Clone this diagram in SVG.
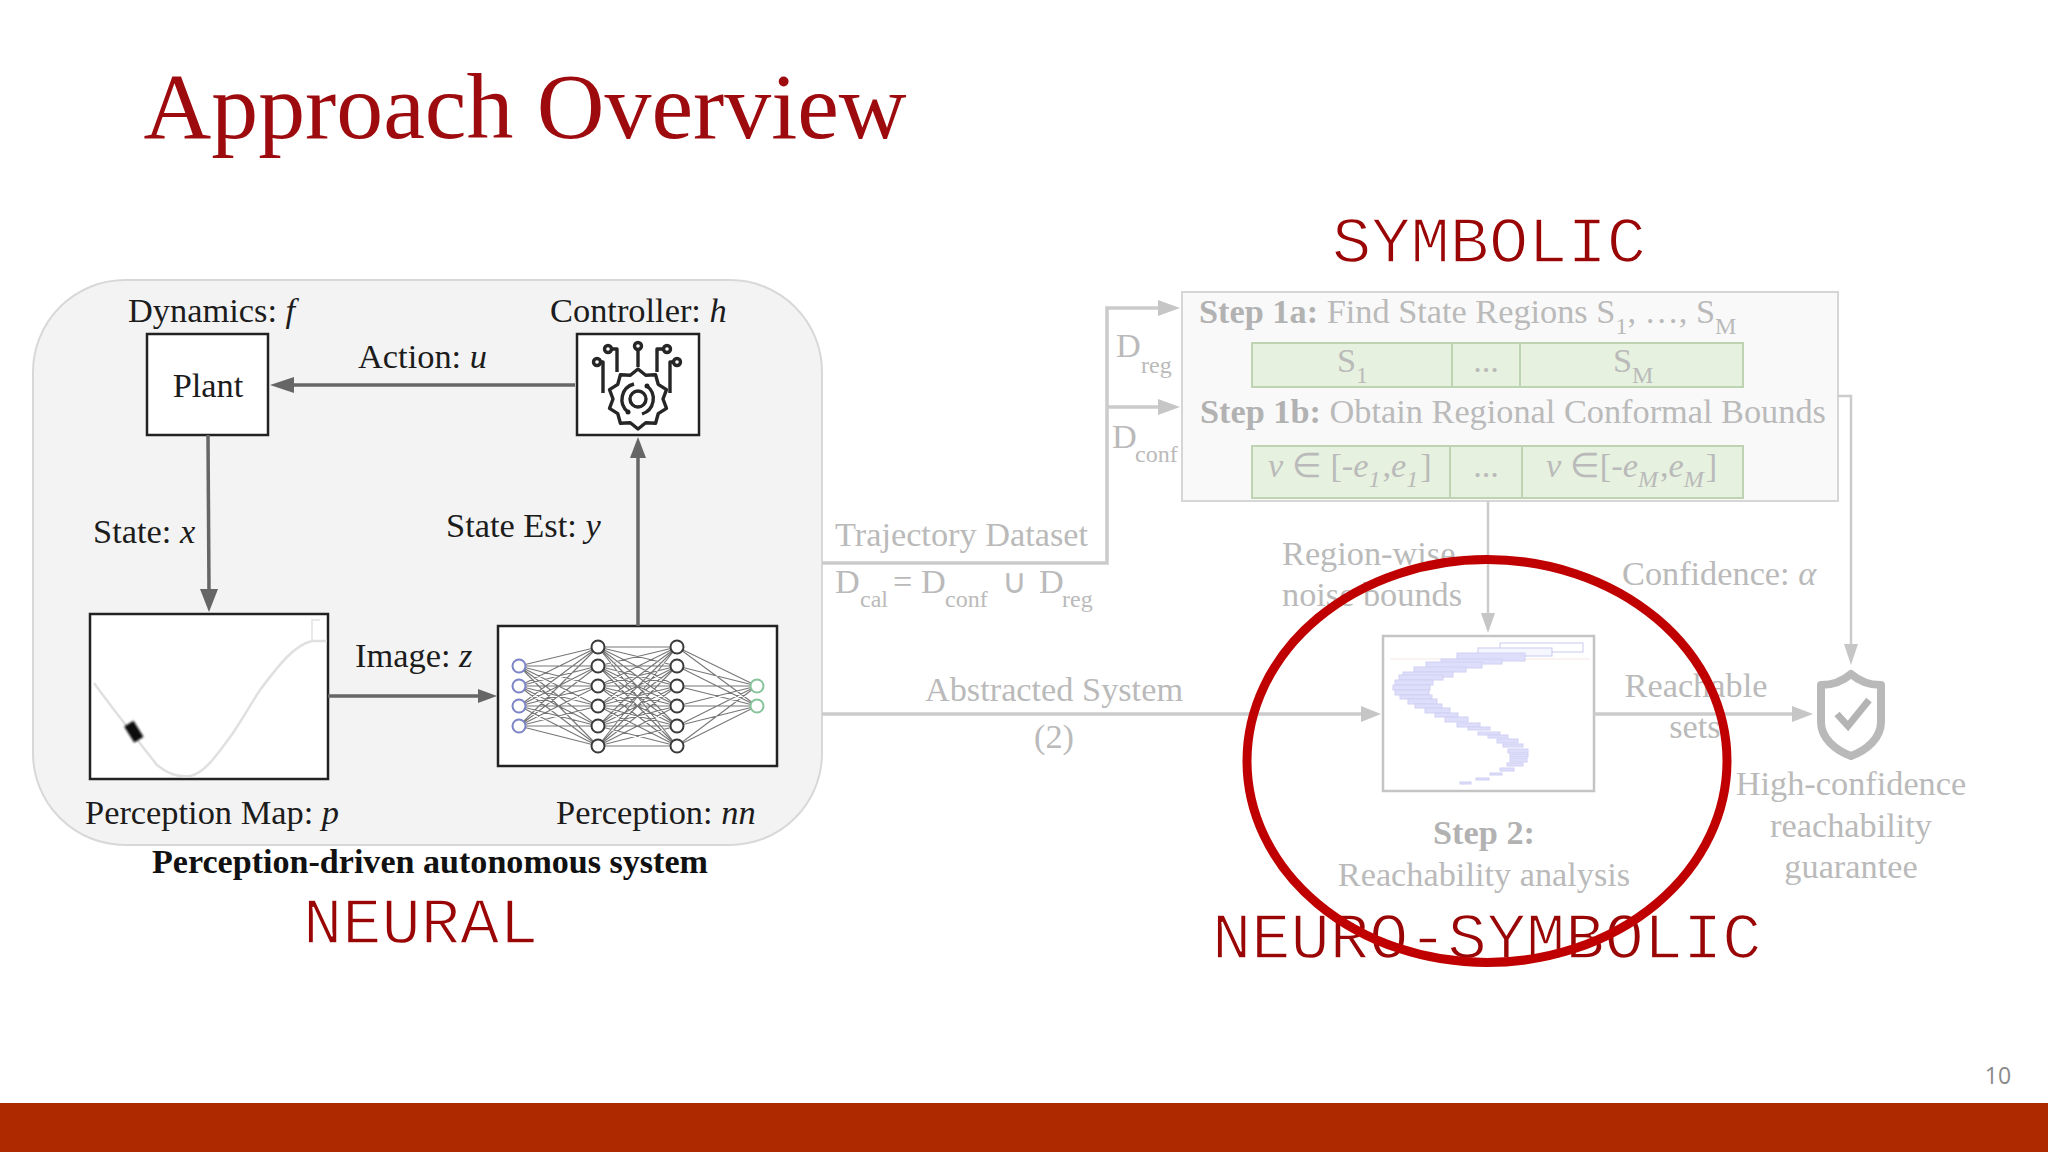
<svg xmlns="http://www.w3.org/2000/svg" width="2048" height="1152" viewBox="0 0 2048 1152">
<style>
text{font-family:"Liberation Serif","Times New Roman",serif}
.d{font-size:34.4px;fill:#1c1c1c}
.g{font-size:34.3px;fill:#bababa}
.gb{font-size:34.3px;fill:#b2b2b2;font-weight:bold}
.s{font-size:24px}
.i{font-style:italic}
.m{text-anchor:middle}
.mono{font-family:"Liberation Mono","Courier New",monospace;font-size:65.4px;fill:#9a0606;stroke:#fff;stroke-width:1.5}
.box{fill:#fff;stroke:#222;stroke-width:2.5}
.lc{fill:none;stroke:#666;stroke-width:3.5}
.lh{fill:#666}
.rc{fill:none;stroke:#cbcbcb;stroke-width:3.5}
.rh{fill:#c6c6c6}
.gr{fill:#e6f1df;stroke:#bed3b1;stroke-width:2}
.nn{fill:#fff;stroke:#3a3a3a;stroke-width:2}
.r{fill:#dedefb;stroke:#d0d0f3;stroke-width:1}
.ic{fill:none;stroke:#262626;stroke-width:3.4;stroke-linejoin:round}
</style>
<defs><filter id="bl" x="-30%" y="-30%" width="160%" height="160%"><feGaussianBlur stdDeviation="0.9"/></filter><filter id="bs" x="-5%" y="-5%" width="110%" height="110%"><feGaussianBlur stdDeviation="0.7"/></filter></defs>
<rect width="2048" height="1152" fill="#fff"/>
<text x="143.5" y="138" style="font-size:93.8px;fill:#9e0b0f">Approach Overview</text>

<g id="neural-panel">
<rect x="33" y="280" width="789" height="565" rx="92" ry="92" fill="#f3f3f3" stroke="#d8d8d8" stroke-width="2"/>
<text x="430" y="873" class="m" style="font-size:34.1px;font-weight:bold;fill:#111">Perception-driven autonomous system</text>
</g>

<g id="plant">
<rect class="box" x="147" y="334" width="121" height="101"/>
<text x="208" y="397" class="d m">Plant</text>
<text x="128" y="322" class="d">Dynamics: <tspan class="i">f</tspan></text>
</g>

<g id="controller">
<rect class="box" x="577" y="334" width="122" height="101"/>
<text x="550" y="322" class="d">Controller: <tspan class="i">h</tspan></text>
<path class="ic" d="M638 369L645.7 375.2L655.6 374.7L658.2 384.3L666.5 389.7L663 399L666.5 408.3L658.2 413.7L655.6 423.3L645.7 422.8L638 429L630.3 422.8L620.4 423.3L617.8 413.7L609.5 408.3L613 399L609.5 389.7L617.8 384.3L620.4 374.7L630.3 375.2Z"/>
<circle class="ic" cx="638" cy="399" r="8"/>
<path class="ic" d="M647 386A16 16 0 0 1 642 414M628 412A16 16 0 0 1 634 384"/>
<circle cx="647" cy="386" r="2.5" fill="#222"/><circle cx="628" cy="412" r="2.5" fill="#222"/>
<circle class="ic" cx="638" cy="346" r="3.5"/><path class="ic" d="M638 350V367"/>
<circle class="ic" cx="608" cy="349" r="3.5"/><path class="ic" d="M612 349H617V372"/>
<circle class="ic" cx="667" cy="349" r="3.5"/><path class="ic" d="M663 349H657V372"/>
<circle class="ic" cx="597" cy="362" r="3.5"/><path class="ic" d="M601 362H603V393"/>
<circle class="ic" cx="677" cy="362" r="3.5"/><path class="ic" d="M673 362H670V393"/>
</g>

<g id="perception-map">
<rect class="box" x="90" y="614" width="238" height="165"/>
<path d="M94 683C110 705 127 727 157 765C170 776 182 777 190 776C203 774 215 758 233 733C245 715 252 702 260 690C272 674 280 664 287 657C296 648 303 643 312 641H327" fill="none" stroke="#e0e0e0" stroke-width="2.5"/>
<path d="M312 641V620H320" fill="none" stroke="#e2e2e2" stroke-width="1.5"/>
<rect x="128" y="722" width="11" height="19" transform="rotate(-32 134 731)" fill="#111" filter="url(#bl)"/>
<text x="85" y="824" class="d">Perception Map: <tspan class="i">p</tspan></text>
</g>

<g id="perception-nn">
<rect class="box" x="498" y="626" width="279" height="140"/>
<path fill="none" stroke="#777" stroke-width="1.1" d="M519 666L598 647M519 666L598 666M519 666L598 686M519 666L598 706M519 666L598 726M519 666L598 746M519 686L598 647M519 686L598 666M519 686L598 686M519 686L598 706M519 686L598 726M519 686L598 746M519 706L598 647M519 706L598 666M519 706L598 686M519 706L598 706M519 706L598 726M519 706L598 746M519 726L598 647M519 726L598 666M519 726L598 686M519 726L598 706M519 726L598 726M519 726L598 746M598 647L677 647M598 647L677 666M598 647L677 686M598 647L677 706M598 647L677 726M598 647L677 746M598 666L677 647M598 666L677 666M598 666L677 686M598 666L677 706M598 666L677 726M598 666L677 746M598 686L677 647M598 686L677 666M598 686L677 686M598 686L677 706M598 686L677 726M598 686L677 746M598 706L677 647M598 706L677 666M598 706L677 686M598 706L677 706M598 706L677 726M598 706L677 746M598 726L677 647M598 726L677 666M598 726L677 686M598 726L677 706M598 726L677 726M598 726L677 746M598 746L677 647M598 746L677 666M598 746L677 686M598 746L677 706M598 746L677 726M598 746L677 746M677 647L757 686M677 647L757 706M677 666L757 686M677 666L757 706M677 686L757 686M677 686L757 706M677 706L757 686M677 706L757 706M677 726L757 686M677 726L757 706M677 746L757 686M677 746L757 706"/>
<g style="stroke:#7c84c8" class="nn"><circle cx="519" cy="666" r="6.5"/><circle cx="519" cy="686" r="6.5"/><circle cx="519" cy="706" r="6.5"/><circle cx="519" cy="726" r="6.5"/></g>
<g class="nn"><circle cx="598" cy="647" r="6.5"/><circle cx="598" cy="666" r="6.5"/><circle cx="598" cy="686" r="6.5"/><circle cx="598" cy="706" r="6.5"/><circle cx="598" cy="726" r="6.5"/><circle cx="598" cy="746" r="6.5"/><circle cx="677" cy="647" r="6.5"/><circle cx="677" cy="666" r="6.5"/><circle cx="677" cy="686" r="6.5"/><circle cx="677" cy="706" r="6.5"/><circle cx="677" cy="726" r="6.5"/><circle cx="677" cy="746" r="6.5"/></g>
<g style="stroke:#86c49a" class="nn"><circle cx="757" cy="686" r="6.5"/><circle cx="757" cy="706" r="6.5"/></g>
<text x="556" y="824" class="d">Perception: <tspan class="i">nn</tspan></text>
</g>

<g id="symbolic-steps">
<rect x="1182" y="292" width="656" height="209" fill="#f9f9f9" stroke="#d6d6d6" stroke-width="2"/>
<text x="1199" y="323" class="g"><tspan class="gb">Step 1a:</tspan> Find State Regions S<tspan class="s" dy="11">1</tspan><tspan dy="-11">, …, S</tspan><tspan class="s" dy="11">M</tspan></text>
<rect class="gr" x="1252" y="343" width="491" height="44"/>
<path d="M1452 343V387M1520 343V387" stroke="#bed3b1" stroke-width="2"/>
<text x="1337" y="372" class="g">S<tspan class="s" dy="11">1</tspan></text>
<text x="1486" y="372" class="g m">...</text>
<text x="1613" y="372" class="g">S<tspan class="s" dy="11">M</tspan></text>
<text x="1200" y="423" class="g"><tspan class="gb">Step 1b:</tspan> Obtain Regional Conformal Bounds</text>
<rect class="gr" x="1252" y="446" width="491" height="52"/>
<path d="M1450 446V498M1522 446V498" stroke="#bed3b1" stroke-width="2"/>
<text x="1268" y="477" class="g"><tspan class="i">v</tspan> ∈ [-<tspan class="i">e</tspan><tspan class="s i" dy="10">1</tspan><tspan dx="2" dy="-10">,</tspan><tspan class="i">e</tspan><tspan class="s i" dy="10">1</tspan><tspan dx="2" dy="-10">]</tspan></text>
<text x="1486" y="477" class="g m">...</text>
<text x="1546" y="477" class="g"><tspan class="i">v</tspan> ∈[-<tspan class="i">e</tspan><tspan class="s i" dy="10">M</tspan><tspan dx="2" dy="-10">,</tspan><tspan class="i">e</tspan><tspan class="s i" dy="10">M</tspan><tspan dx="2" dy="-10">]</tspan></text>
</g>

<g id="reachability">
<rect x="1383" y="636" width="211" height="155" fill="#fff" stroke="#c4c4c4" stroke-width="2.5"/>
<path d="M1390 659H1590" stroke="#faeeee" stroke-width="1.5"/>
<g filter="url(#bs)">
<rect x="1500" y="643" width="83" height="9" fill="#fff" stroke="#c9c9f0"/>
<rect x="1478" y="648" width="74" height="8" fill="#f6f6ff" stroke="#c9c9f0"/>
<rect class="r" x="1457" y="653" width="68" height="8"/><rect class="r" x="1441" y="659" width="61" height="5"/><rect class="r" x="1426" y="662" width="56" height="6"/><rect class="r" x="1414" y="667" width="52" height="5"/><rect class="r" x="1403" y="672" width="50" height="5"/><rect class="r" x="1399" y="675" width="44" height="5"/><rect class="r" x="1395" y="680" width="38" height="5"/><rect class="r" x="1393" y="685" width="37" height="5"/><rect class="r" x="1395" y="690" width="34" height="5"/><rect class="r" x="1400" y="695" width="32" height="4"/><rect class="r" x="1408" y="699" width="29" height="5"/><rect class="r" x="1415" y="704" width="27" height="4"/><rect class="r" x="1425" y="708" width="25" height="5"/><rect class="r" x="1435" y="713" width="23" height="4"/><rect class="r" x="1445" y="717" width="23" height="5"/><rect class="r" x="1457" y="723" width="23" height="4"/><rect class="r" x="1468" y="727" width="22" height="3"/><rect class="r" x="1478" y="732" width="22" height="3"/><rect class="r" x="1488" y="735" width="20" height="3"/><rect class="r" x="1497" y="739" width="21" height="4"/><rect class="r" x="1503" y="744" width="20" height="3"/><rect class="r" x="1508" y="749" width="20" height="4"/><rect class="r" x="1510" y="754" width="18" height="3"/><rect class="r" x="1510" y="758" width="17" height="4"/><rect class="r" x="1507" y="763" width="16" height="3"/><rect class="r" x="1500" y="768" width="14" height="3"/><rect class="r" x="1490" y="773" width="12" height="2"/><rect class="r" x="1476" y="778" width="13" height="2"/><rect class="r" x="1460" y="782" width="11" height="2"/>
</g>
<text x="1484" y="844" class="gb m">Step 2:</text>
<text x="1484" y="886" class="g m">Reachability analysis</text>
</g>

<g id="guarantee">
<path d="M1851 674C1843 681 1832 685 1821 685V722C1821 738 1835 750 1851 756C1867 750 1881 738 1881 722V685C1870 685 1859 681 1851 674Z" fill="#fff" stroke="#b9b9b9" stroke-width="8" stroke-linejoin="round"/>
<path d="M1837 714L1848 726L1869 700" fill="none" stroke="#b4b4b4" stroke-width="7"/>
<text x="1851" y="795" class="g m">High-confidence</text>
<text x="1851" y="837" class="g m">reachability</text>
<text x="1851" y="878" class="g m">guarantee</text>
</g>

<g id="connectors">
<path class="lc" d="M575 385H290"/><path class="lh" d="M270 385L294 377V393Z"/>
<path class="lc" d="M208 435L209 592"/><path class="lh" d="M209 612L200 589H218Z"/>
<path class="lc" d="M638 626V455"/><path class="lh" d="M638 437L630 458H646Z"/>
<path class="lc" d="M328 696H482"/><path class="lh" d="M497 696L478 689V703Z"/>
<path class="rc" d="M822 563H1107V308H1160M1107 407H1160"/>
<path class="rh" d="M1180 308L1158 300V316ZM1180 407L1158 399V415Z"/>
<path class="rc" d="M1488 501V615" style="stroke-width:2.5"/><path class="rh" d="M1488 633L1481 613H1495Z"/>
<path class="rc" d="M822 714H1363"/><path class="rh" d="M1381 714L1361 706V722Z"/>
<path class="rc" d="M1594 714H1794"/><path class="rh" d="M1813 714L1792 706V722Z"/>
<path class="rc" d="M1838 396H1851V646" style="stroke-width:2.5"/><path class="rh" d="M1851 665L1844 644H1858Z"/>
</g>

<g id="connector-labels">
<text x="358" y="368" class="d">Action: <tspan class="i">u</tspan></text>
<text x="93" y="543" class="d">State: <tspan class="i">x</tspan></text>
<text x="446" y="537" class="d">State Est:  <tspan class="i">y</tspan></text>
<text x="355" y="667" class="d">Image: <tspan class="i">z</tspan></text>
<text x="1116" y="357" class="g">D</text><text x="1141" y="373" class="g s">reg</text>
<text x="1112" y="448" class="g">D</text><text x="1135" y="462" class="g s">conf</text>
<text x="835" y="546" class="g">Trajectory Dataset</text>
<text x="835" y="593" class="g">D</text><text x="860" y="607" class="g s">cal</text>
<text x="893" y="593" class="g">=</text><text x="921" y="593" class="g">D</text><text x="945" y="607" class="g s">conf</text>
<text x="1002" y="593" class="g">∪</text><text x="1039" y="593" class="g">D</text><text x="1062" y="607" class="g s">reg</text>
<text x="1282" y="565" class="g">Region-wise</text>
<text x="1282" y="606" class="g">noise bounds</text>
<text x="1622" y="585" class="g">Confidence: <tspan class="i">α</tspan></text>
<text x="1054" y="701" class="g m">Abstracted System</text>
<text x="1054" y="748" class="g m">(2)</text>
<text x="1696" y="697" class="g m">Reachable</text>
<text x="1695" y="738" class="g m">sets</text>
</g>

<text class="mono" x="1332" y="262">SYMBOLIC</text>
<text class="mono" x="303" y="943">NEURAL</text>
<text class="mono" x="1212" y="958">NEURO-SYMBOLIC</text>
<ellipse id="highlight" cx="1487" cy="761" rx="240" ry="201.5" fill="none" stroke="#c00000" stroke-width="9"/>

<rect y="1103" width="2048" height="49" fill="#af2900"/>
<text x="1998" y="1084" class="m" style="font-family:'Open Sans',sans-serif;font-size:23px;fill:#8a8a8a">10</text>
</svg>
